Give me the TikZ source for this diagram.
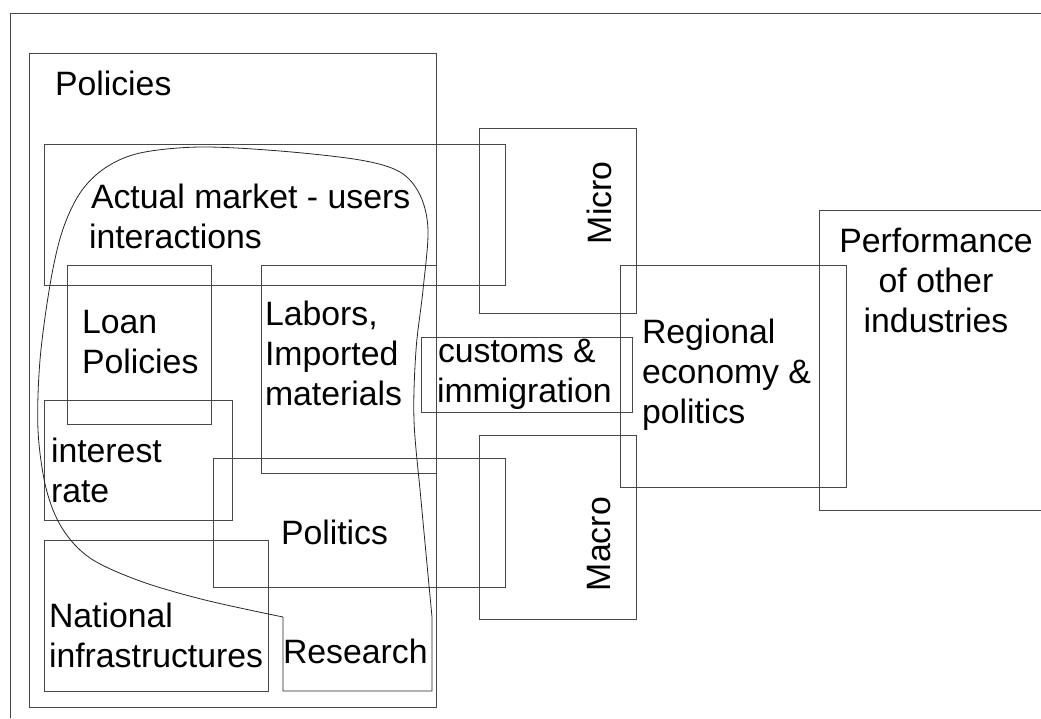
\documentclass[tikz,border=0pt]{standalone}
\usepackage{fontspec}
\setmainfont{Liberation Sans}
\begin{document}
\begin{tikzpicture}[x=1pt,y=-1pt,
  frame/.style={draw=black!72,line width=1pt},
  lbl/.style={inner sep=0pt,outer sep=0pt,anchor=base west,
    font=\fontsize{33.8}{40}\selectfont},
  clbl/.style={lbl,anchor=base},
  rlbl/.style={lbl,rotate=90}]
\useasboundingbox (0,0) rectangle (1041,718);

% open outer frame
\draw[frame] (10,718) -- (10,13) -- (1041,13);

% boxes
\draw[frame] (29,53) rectangle (436,707);      % policies
\draw[frame] (44,144) rectangle (505,285);     % market
\draw[frame] (67,265) rectangle (211,424);     % loan policies
\draw[frame] (261,265) rectangle (436,473);    % labors
\draw[frame] (44,400) rectangle (232,520);     % interest rate
\draw[frame] (213,458) rectangle (505,587);    % politics
\draw[frame] (44,540) rectangle (268,691);     % national infrastructures
\draw[frame] (479,128) rectangle (636,313);    % micro
\draw[frame] (479,435) rectangle (636,619);    % macro
\draw[frame] (421,337) rectangle (632,412);    % customs
\draw[frame] (620,265) rectangle (846,487);    % regional
\draw[frame] (819,210) -- (1041,210) (819,210) -- (819,510) -- (1041,510); % performance

% free-form outline, closing around the research box
\draw[black!85,line width=0.8pt]
  (283,617) -- (283,691) -- (432,691) -- (432,617)
  -- plot[smooth,tension=0.55] coordinates {
    (432,617) (421,500) (414,420) (416,350) (423,290) (428,230)
    (420,195) (400,172) (360,160) (280,151) (200,147) (140,153)
    (105,168) (80,193) (62,232) (50,285) (40,360) (38,430) (46,488)
    (62,528) (90,558) (140,581) (205,600) (283,617)};

% labels
\node[lbl] (pol) at (55,95) {Policies};
\node[lbl] (act1) at (91,208) {Actual market - users};
\node[lbl] (act2) at (89,248) {interactions};
\node[lbl] (loan1) at (82,333) {Loan};
\node[lbl] (loan2) at (82,373) {Policies};
\node[lbl] (lab1) at (265,325) {Labors,};
\node[lbl] (lab2) at (265,365) {Imported};
\node[lbl] (lab3) at (265,405) {materials};
\node[lbl] (cus1) at (438,362) {customs \&};
\node[lbl] (cus2) at (437,402) {immigration};
\node[lbl] (int1) at (51,462) {interest};
\node[lbl] (int2) at (51,502) {rate};
\node[lbl] (poli) at (281,544) {Politics};
\node[lbl] (nat1) at (49,627) {National};
\node[lbl] (nat2) at (49,667) {infrastructures};
\node[lbl] (res) at (283,663) {Research};
\node[lbl] (reg1) at (642,343) {Regional};
\node[lbl] (reg2) at (642,383) {economy \&};
\node[lbl] (reg3) at (642,423) {politics};
\node[clbl] (perf1) at (936,252) {Performance};
\node[clbl] (perf2) at (936,292) {of other};
\node[clbl] (perf3) at (936,332) {industries};
\node[rlbl] (mic) at (611,244) {Micro};
\node[rlbl] (mac) at (610,591) {Macro};
\end{tikzpicture}
\end{document}
